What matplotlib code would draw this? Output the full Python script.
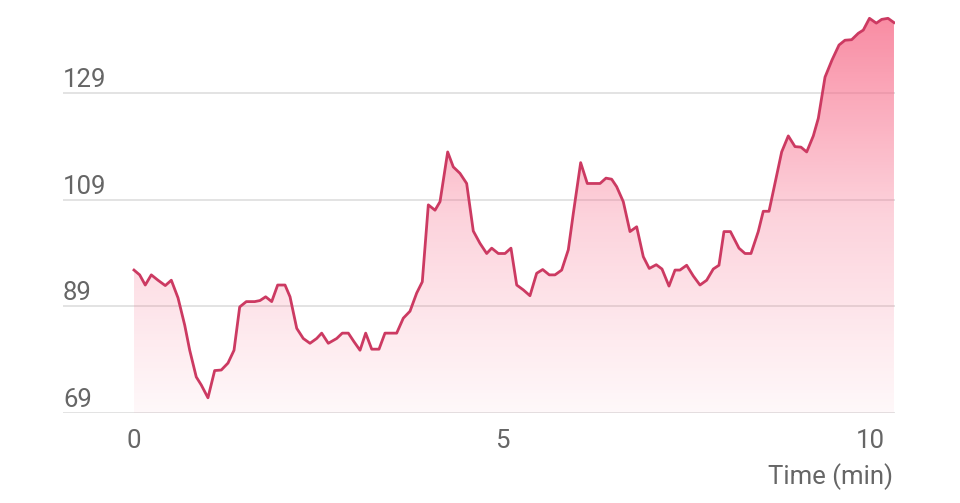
import numpy as np
import matplotlib
matplotlib.use("Agg")
import matplotlib.pyplot as plt
from matplotlib.colors import LinearSegmentedColormap

plt.rcParams['font.family'] = ['Roboto', 'DejaVu Sans']

# time in minutes, heart rate in bpm
time_min = [0.00, 0.077, 0.153, 0.235, 0.326, 0.425, 0.507, 0.598, 0.689, 0.757,
            0.846, 0.914, 1.005, 1.096, 1.186, 1.277, 1.359, 1.436, 1.526, 1.640,
            1.712, 1.789, 1.871, 1.952, 2.052, 2.120, 2.211, 2.300, 2.391, 2.482,
            2.550, 2.640, 2.754, 2.830, 2.912, 2.989, 3.071, 3.148, 3.230, 3.329,
            3.410, 3.569, 3.659, 3.750, 3.841, 3.917, 3.999, 4.090, 4.158, 4.262,
            4.338, 4.429, 4.520, 4.610, 4.701, 4.792, 4.860, 4.950, 5.041, 5.122,
            5.200, 5.289, 5.380, 5.471, 5.553, 5.643, 5.720, 5.811, 5.901, 5.969,
            6.069, 6.159, 6.332, 6.413, 6.490, 6.558, 6.648, 6.739, 6.830, 6.920,
            7.001, 7.096, 7.174, 7.269, 7.351, 7.418, 7.509, 7.599, 7.690, 7.781,
            7.871, 7.948, 8.016, 8.104, 8.220, 8.302, 8.383, 8.482, 8.550, 8.628,
            8.800, 8.890, 8.981, 9.062, 9.140, 9.230, 9.298, 9.389, 9.484, 9.579,
            9.660, 9.751, 9.841, 9.909, 9.993, 10.086, 10.159, 10.245, 10.326]
heart_rate = [95.8, 94.9, 93.0, 94.9, 93.9, 92.9, 93.9, 90.6, 85.5, 80.8,
              75.8, 74.3, 71.9, 77.0, 77.1, 78.4, 80.8, 88.9, 89.9, 89.9,
              90.1, 90.8, 89.9, 93.0, 93.0, 90.8, 84.9, 83.0, 82.1, 83.0,
              84.0, 82.1, 83.0, 84.0, 84.0, 82.4, 80.8, 84.0, 81.0, 81.0,
              84.0, 84.0, 86.8, 88.1, 91.5, 93.6, 108.0, 107.0, 108.6, 117.9,
              115.1, 113.9, 112.0, 103.1, 100.8, 98.9, 99.9, 98.9, 98.9, 99.9,
              93.0, 92.1, 91.0, 95.2, 95.9, 94.9, 94.9, 95.8, 99.6, 106.4,
              115.9, 112.0, 112.0, 113.0, 112.8, 111.4, 108.6, 103.0, 103.9, 98.3,
              96.1, 96.8, 96.0, 92.8, 95.8, 95.8, 96.7, 94.7, 93.0, 93.9,
              96.0, 96.7, 103.0, 103.0, 99.9, 98.9, 98.9, 103.0, 106.8, 106.8,
              117.9, 120.9, 118.9, 118.8, 117.9, 120.9, 124.2, 131.9, 135.1, 137.9,
              138.8, 138.9, 140.1, 140.7, 142.9, 142.0, 142.7, 142.9, 142.1]

y_ticks = [69, 89, 109, 129]
x_ticks = [0, 5, 10]
x_label = "Time (min)"

line_color = '#cc3a62'
text_color = '#666666'
grid_color = '#dedede'

fig = plt.figure(figsize=(9.6, 5.03), dpi=100)
ax = fig.add_axes([0.0656, 0.1783, 0.8667, 0.8076])

ymin, ymax = 69, 145
ax.set_xlim(-0.965, 10.34)
ax.set_ylim(ymin, ymax)

# gradient fill under the curve (pale at the bottom, stronger at the top)
fill = ax.fill_between(time_min, heart_rate, ymin, color='none', lw=0)
cmap = LinearSegmentedColormap.from_list(
    'hr', [(0.98, 0.45, 0.56, 0.05), (0.97, 0.42, 0.54, 0.30),
           (0.97, 0.40, 0.52, 0.75)])
grad = np.linspace(0, 1, 256).reshape(-1, 1)
img = ax.imshow(grad, cmap=cmap, origin='lower', aspect='auto',
                extent=[time_min[0], time_min[-1], ymin, max(heart_rate)], zorder=1)
img.set_clip_path(fill.get_paths()[0], transform=ax.transData)

ax.plot(time_min, heart_rate, color=line_color, lw=2.0, zorder=3,
        solid_joinstyle='round')

# horizontal gridlines with labels above them on the left
for v in y_ticks:
    ax.axhline(v, color=grid_color, lw=1.2, zorder=0)
    ax.annotate(str(v), xy=(0, v), xycoords=('axes fraction', 'data'),
                xytext=(0, 4.3), textcoords='offset points',
                ha='left', va='baseline', fontsize=18.5, color=text_color)

for s in ax.spines.values():
    s.set_visible(False)
ax.set_yticks([])
ax.set_xticks(x_ticks)
ax.set_xticklabels([str(t) for t in x_ticks], fontsize=18.5, color=text_color)
ax.tick_params(axis='x', length=0, pad=11)

fig.text(893 / 960, 1 - 477 / 503, x_label, ha='right', va='center',
         fontsize=18.5, color=text_color)

fig.savefig('out.png', dpi=100, facecolor='white')
